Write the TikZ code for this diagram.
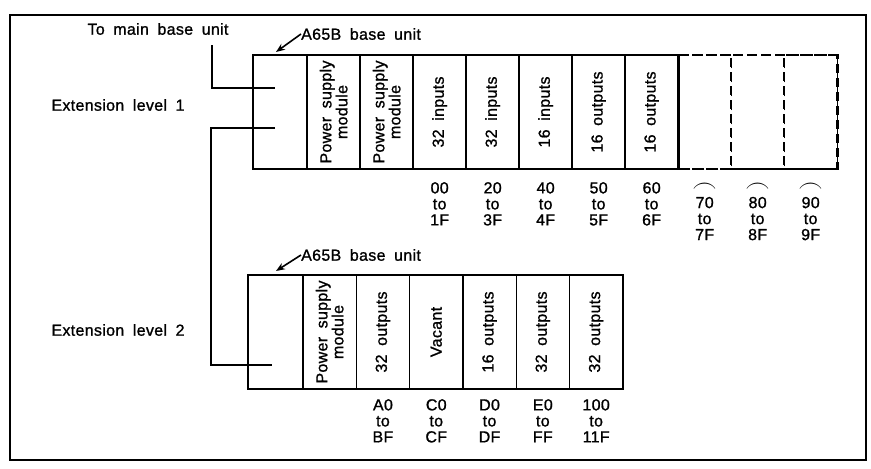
\documentclass[tikz,border=0pt]{standalone}
\usepackage{fontspec}
\setmainfont{Liberation Sans}[WordSpace=1.8, LetterSpace=2, FakeBold=1.1]
\usetikzlibrary{arrows.meta,positioning}

\begin{document}
\begin{tikzpicture}[x=1pt, y=-1pt, >={Stealth[length=9pt,width=7pt]},
    font=\fontsize{16}{16}\selectfont]
    % styles
    \tikzstyle{slot} = [draw, line width=1.2pt, minimum width=53.3pt, minimum height=114pt, inner sep=0pt, outer sep=0pt, anchor=north west]
    \tikzstyle{modtext} = [rotate=90, align=center, inner sep=0pt, font=\fontsize{16}{16}\selectfont]
    \tikzstyle{addr} = [align=center, inner sep=0pt, anchor=north]
    \tikzstyle{unitline} = [line width=2.4pt]
    \tikzstyle{wire} = [line width=2pt]
    \tikzstyle{pointer} = [->, line width=1.6pt]
    \tikzstyle{dashslot} = [dash pattern=on 9pt off 5pt]

    \useasboundingbox (0,0) rectangle (871,469);
    \draw[line width=1.8pt] (10,15) rectangle (866,460);

    % ============ extension level 1 ============
    \node[slot, minimum width=54pt] (u0) at (253,55) {};
    \foreach \i/\txt in {1/{Power supply\\module}, 2/{Power supply\\module}, 3/{32 inputs}, 4/{32 inputs}, 5/{16 inputs}, 6/{16 outputs}, 7/{16 outputs}} {
        \node[slot] (u\i) at ({307+(\i-1)*53},55) {};
        \node[modtext] at (u\i) {\txt};
    }
    \foreach \i in {8,9,10} {
        \node[slot, dashslot] (u\i) at ({307+(\i-1)*53},55) {};
    }
    \draw[unitline] (u0.north west) rectangle (u7.south east);
    \draw[unitline, dashslot] (u7.north east) -- (u10.north east) -- (u10.south east) -- (u7.south east);

    % addresses
    \foreach \i/\lo/\hi in {3/00/1F, 4/20/3F, 5/40/4F, 6/50/5F, 7/60/6F} {
        \node[addr, below=13pt of u\i.south] (a\i) {\lo\\to\\\hi};
    }
    \foreach \i/\lo/\hi in {8/70/7F, 9/80/8F, 10/90/9F} {
        \node[addr, below=14pt of u\i.south] (a\i) {{\fontsize{24}{16}\selectfont$\frown$}\\\lo\\to\\\hi};
    }

    % ============ extension level 2 ============
    \node[slot, minimum width=55pt] (l0) at (248,275) {};
    \node[slot] (l1) at (303,275) {};
    \node[modtext] at (l1) {Power supply\\module};
    \foreach \i/\txt/\lo/\hi in {2/{32 outputs}/A0/BF, 3/{Vacant}/C0/CF, 4/{16 outputs}/D0/DF, 5/{32 outputs}/E0/FF, 6/{32 outputs}/100/11F} {
        \node[slot] (l\i) at ({303+(\i-1)*53.3},275) {};
        \node[modtext] at (l\i) {\txt};
        \node[addr, below=10pt of l\i.south] (b\i) {\lo\\to\\\hi};
    }
    \draw[unitline] (l0.north west) rectangle (l6.south east);

    % labels
    \node (tomain) at (158,29) {To main base unit};
    \node (ext1) at (118,105) {Extension level 1};
    \node (ext2) at (118,330) {Extension level 2};
    \node[anchor=west, inner sep=0pt] (base1) at (301,34) {A65B base unit};
    \node[anchor=west, inner sep=0pt] (base2) at (301,255) {A65B base unit};

    % pointers
    \coordinate (tip1) at (276,52);
    \coordinate (tip2) at (276,271);
    \draw[pointer] (base1.west) -- (tip1);
    \draw[pointer] (base2.west) -- (tip2);

    % cables
    \coordinate (drop) at (212,45);
    \coordinate (in1) at (275,88);
    \coordinate (out1) at (275,128);
    \coordinate (in2) at (272,365);
    \draw[wire] (drop) |- (in1);
    \draw[wire] (out1) -- ++(-64,0) |- (in2);
\end{tikzpicture}
\end{document}
